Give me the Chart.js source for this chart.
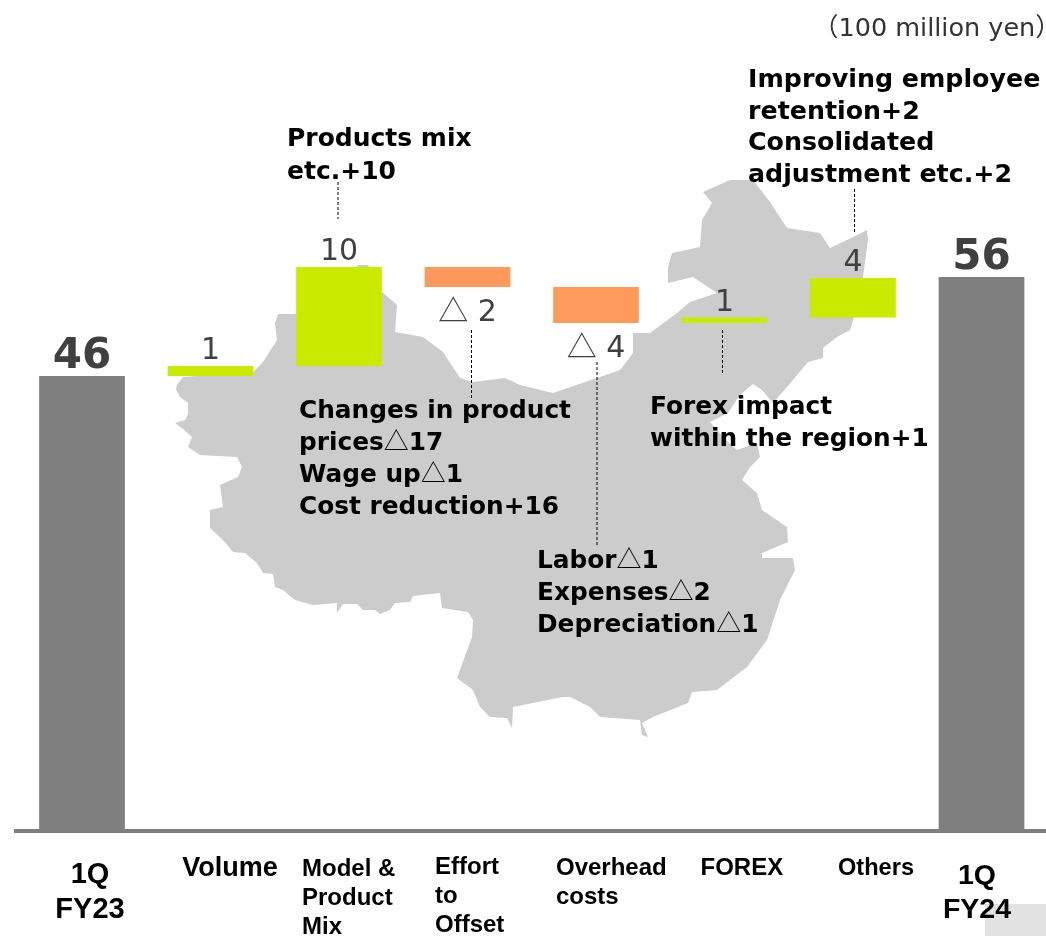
<!DOCTYPE html>
<html>
<head>
<meta charset="utf-8">
<title>Operating profit bridge</title>
<script src="https://cdn.jsdelivr.net/npm/chart.js@4"></script>
<style>
	body { margin: 0; background: #fff; }
	canvas { display: block; }
</style>
</head>
<body>
<canvas id="grafico" width="1046" height="936"></canvas>
<script>
// values
const categorias = [["1Q", "FY23"], ["Volume"], ["Model &", "Product", "Mix"], ["Effort", "to", "Offset"], ["Overhead", "costs"], ["FOREX"], ["Others"], ["1Q", "FY24"]]
const desde = [0, 46, 47, 57, 55, 51.35, 51.9, 0]
const hasta = [46, 47, 57, 55, 51.35, 51.9, 55.9, 56]
const etiquetas = ["46", "1", "10", "△ 2", "△ 4", "1", "4", "56"]
const unidad = "（100 million yen）"

const notaMix = ["Products mix", "etc.+10"]
const notaEsfuerzo = ["Changes in product", "prices△17", "Wage up△1", "Cost reduction+16"]
const notaCostos = ["Labor△1", "Expenses△2", "Depreciation△1"]
const notaForex = ["Forex impact", "within the region+1"]
const notaOtros = ["Improving employee", "retention+2", "Consolidated", "adjustment etc.+2"]

// colors
const GRIS = "#7f7f7f", VERDE = "#c9eb00", NARANJA = "#ff9a5c", MAPA = "#cccccc", TEXTO = "#404040"
const colores = [GRIS, VERDE, VERDE, NARANJA, NARANJA, VERDE, VERDE, GRIS]

// layout of the text blocks: left edge, first baseline, line step, font size
const bloques = [
	{ lineas: notaMix, x: 287, y: 146, paso: 32.5, size: 25 },
	{ lineas: notaEsfuerzo, x: 299, y: 418, paso: 32, size: 24.8 },
	{ lineas: notaCostos, x: 537, y: 568, paso: 32, size: 24.8 },
	{ lineas: notaForex, x: 650, y: 414, paso: 32, size: 24.8 },
	{ lineas: notaOtros, x: 748, y: 87, paso: 31.7, size: 25.3 }
]

// dashed leaders [x, y1, y2]
const guias = [[338, 182, 219], [471.5, 330, 398], [597, 362, 545], [722.5, 330, 375], [854.5, 189, 234]]

// category labels, offset from the bar centre
const rotulos = [
	{ dx: 8, y: 883, paso: 35, alin: "center", size: 29 },
	{ dx: 19.5, y: 876, paso: 29, alin: "center", size: 27 },
	{ dx: -37, y: 876, paso: 29, alin: "left", size: 24 },
	{ dx: -32.5, y: 874, paso: 29, alin: "left", size: 24 },
	{ dx: -40, y: 875, paso: 29, alin: "left", size: 24 },
	{ dx: -24, y: 875, paso: 29, alin: "left", size: 24 },
	{ dx: -15, y: 875, paso: 29, alin: "left", size: 23.6 },
	{ dx: -4.5, y: 884, paso: 34, alin: "center", size: 28.5 }
]

// silhouette behind the bars
const contorno = [[183,377],[177,385],[176,389],[180,397],[188,403],[188,414],[185,420],[175,423],[183,429],[192,437],[188,447],[200,455],[237,457],[242,467],[238,477],[220,485],[223,507],[210,510],[210,528],[223,540],[233,552],[245,553],[257,563],[263,573],[273,574],[275,587],[283,590],[295,600],[313,605],[337,603],[337,613],[343,604],[357,604],[363,610],[375,610],[380,614],[390,610],[395,603],[410,602],[413,596],[440,593],[442,608],[468,612],[473,620],[472,637],[457,678],[473,690],[480,707],[490,717],[507,718],[512,728],[513,707],[563,697],[570,697],[590,707],[600,717],[640,720],[642,735],[648,737],[642,723],[653,717],[688,703],[692,692],[717,690],[747,667],[767,640],[780,600],[795,570],[793,558],[762,558],[762,553],[788,542],[787,527],[762,510],[757,493],[742,480],[750,467],[760,457],[757,443],[737,450],[723,437],[710,422],[728,413],[740,395],[753,384],[762,390],[773,403],[787,387],[808,362],[823,358],[823,348],[837,337],[850,330],[853,320],[860,300],[863,277],[868,240],[867,230],[847,240],[830,248],[820,233],[787,228],[770,202],[753,180],[730,180],[703,192],[712,203],[702,220],[700,247],[672,253],[668,267],[668,283],[693,277],[717,293],[690,302],[677,313],[650,333],[633,333],[633,353],[620,370],[597,378],[553,393],[520,385],[505,378],[473,382],[460,378],[443,352],[423,337],[395,332],[397,305],[382,292],[368,265],[358,265],[340,290],[296,314],[278,314],[275,323],[277,340],[263,362],[253,372]]

// writes a line, the triangle goes in a thin CJK face like in the original
function escribir(ctx, texto, x, y, fuente, size){
	const partes = texto.split(/(△)/)
	ctx.textAlign = "left"
	partes.forEach(p => {
		if(p == "") return
		ctx.font = p == "△" ? size + "px 'Noto Sans CJK JP'" : fuente
		ctx.fillText(p, x, y)
		x += ctx.measureText(p).width
	})
}

const fondo = {
	id: "fondo",
	beforeDatasetsDraw(chart){
		const ctx = chart.ctx
		ctx.save()
		// page number box
		ctx.fillStyle = "#e2e2e2"
		ctx.fillRect(985, 904, 61, 32)
		ctx.fillStyle = MAPA
		ctx.beginPath()
		contorno.forEach((p, i) => i == 0 ? ctx.moveTo(p[0], p[1]) : ctx.lineTo(p[0], p[1]))
		ctx.closePath()
		ctx.fill()
		ctx.restore()
	}
}

const textos = {
	id: "textos",
	afterDatasetsDraw(chart){
		const ctx = chart.ctx
		const x = chart.scales.x, y = chart.scales.y
		ctx.save()

		// base line
		ctx.fillStyle = GRIS
		ctx.fillRect(14, y.getPixelForValue(0) - 2, chart.width - 14, 4)

		// dashed leaders
		ctx.strokeStyle = "#000"
		ctx.lineWidth = 1
		ctx.setLineDash([3, 2])
		guias.forEach(g => {
			ctx.beginPath()
			ctx.moveTo(g[0], g[1])
			ctx.lineTo(g[0], g[2])
			ctx.stroke()
		})
		ctx.setLineDash([])

		// value labels
		ctx.fillStyle = TEXTO
		etiquetas.forEach((et, i) => {
			const cx = x.getPixelForValue(i)
			const grande = i == 0 || i == etiquetas.length - 1
			if(grande){
				ctx.font = "bold 42px 'DejaVu Sans'"
				ctx.textAlign = "center"
				ctx.fillText(et, cx, y.getPixelForValue(hasta[i]) - 8)
			}else if(hasta[i] < desde[i]){
				// negative steps carry the label under the bar
				const base = y.getPixelForValue(hasta[i]) + 34
				const fuente = "30px 'DejaVu Sans'"
				ctx.font = fuente
				const resto = et.slice(1)
				const anchoResto = ctx.measureText(resto).width
				ctx.font = "30px 'Noto Sans CJK JP'"
				const anchoTri = ctx.measureText("△").width
				escribir(ctx, et, cx - (anchoTri + anchoResto) / 2, base, fuente, 30)
			}else{
				ctx.font = "30px 'DejaVu Sans'"
				ctx.textAlign = "center"
				ctx.fillText(et, cx, y.getPixelForValue(hasta[i]) - 7)
			}
		})

		// notes
		ctx.fillStyle = "#000"
		bloques.forEach(b => {
			b.lineas.forEach((l, i) => {
				escribir(ctx, l, b.x, b.y + i * b.paso, "bold " + b.size + "px 'DejaVu Sans'", 25)
			})
		})

		// unit
		ctx.fillStyle = "#333"
		ctx.textAlign = "left"
		ctx.font = "25.5px 'DejaVu Sans','Noto Sans CJK JP'"
		ctx.fillText(unidad, 813, 36)

		// categories
		ctx.fillStyle = "#000"
		categorias.forEach((lineas, i) => {
			const r = rotulos[i]
			ctx.font = "bold " + r.size + "px 'Liberation Sans'"
			ctx.textAlign = r.alin
			lineas.forEach((l, j) => {
				ctx.fillText(l, x.getPixelForValue(i) + r.dx, r.y + j * r.paso)
			})
		})
		ctx.restore()
	}
}

new Chart(document.querySelector("#grafico"), {
	type: "bar",
	data: {
		labels: categorias.map(c => c.join(" ")),
		datasets: [{
			data: desde.map((d, i) => [d, hasta[i]]),
			backgroundColor: colores,
			borderWidth: 0,
			barPercentage: 1,
			categoryPercentage: 0.667
		}]
	},
	options: {
		responsive: false,
		animation: false,
		layout: { padding: { left: 17.75, right: 0.25, top: 0, bottom: 105 } },
		plugins: { legend: { display: false }, tooltip: { enabled: false } },
		scales: {
			x: { display: false },
			y: { display: false, min: 0, max: 84 }
		}
	},
	plugins: [fondo, textos]
})
</script>
</body>
</html>
